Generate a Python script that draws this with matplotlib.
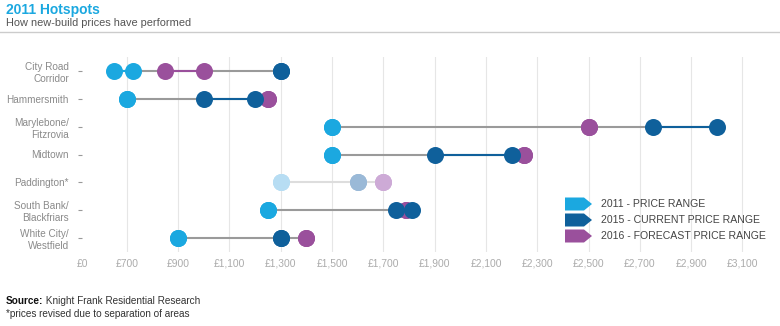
import matplotlib.pyplot as plt
from matplotlib.patches import Polygon

plt.rcParams['font.family'] = ['Liberation Sans', 'DejaVu Sans']

# Data: price per sq ft ranges by area
areas = ["City Road\nCorridor", "Hammersmith", "Marylebone/\nFitzrovia", "Midtown",
         "Paddington*", "South Bank/\nBlackfriars", "White City/\nWestfield"]
p2011_lo = [650, 700, 1500, 1500, 1300, 1250, 900]
p2011_hi = [725, 700, 1500, 1500, 1300, 1250, 900]
p2015_lo = [1300, 1000, 2750, 1900, 1600, 1750, 1300]
p2015_hi = [1300, 1200, 3000, 2200, 1600, 1810, 1300]
p2016_lo = [850, 1250, 2500, 2250, 1700, 1790, 1400]
p2016_hi = [1000, 1250, 2500, 2250, 1700, 1790, 1400]
revised = [False, False, False, False, True, False, False]

tick_vals = [525, 700, 900, 1100, 1300, 1500, 1700, 1900, 2100, 2300, 2500, 2700, 2900, 3100]
tick_labels = ["£0", "£700", "£900", "£1,100", "£1,300", "£1,500", "£1,700", "£1,900",
               "£2,100", "£2,300", "£2,500", "£2,700", "£2,900", "£3,100"]
legend_labels = ["2011 - PRICE RANGE", "2015 - CURRENT PRICE RANGE", "2016 - FORECAST PRICE RANGE"]

LIGHT = "#1ba8e0"
DARK = "#0f609b"
PURPLE = "#9a509c"
FADED = {LIGHT: "#b7ddf3", DARK: "#9ab9d7", PURPLE: "#cdaad6"}

W, H = 780, 326
fig = plt.figure(figsize=(W / 100, H / 100), dpi=100)


def px(x, y):
    # pixel coords (top-left origin) -> figure fraction
    return x / W, 1 - y / H


ax = fig.add_axes([82 / W, 1 - 252 / H, (770 - 82) / W, (252 - 57) / H])
ax.set_xlim(525, 525 + 688 * 200 / 51.3)
ax.set_ylim(len(areas) - 0.5, -0.5)

for v in tick_vals[1:]:
    ax.axvline(v, color="#e6e6e6", lw=0.8, zorder=0)

for i in range(len(areas)):
    c_light, c_dark, c_purp, c_line = LIGHT, DARK, PURPLE, "#9a9a9a"
    if revised[i]:
        c_light, c_dark, c_purp, c_line = FADED[LIGHT], FADED[DARK], FADED[PURPLE], "#dddddd"
    vals = [p2011_lo[i], p2011_hi[i], p2015_lo[i], p2015_hi[i], p2016_lo[i], p2016_hi[i]]
    ax.plot([min(vals), max(vals)], [i, i], color=c_line, lw=1.5, zorder=1)
    ax.plot([p2011_lo[i], p2011_hi[i]], [i, i], color=c_light, lw=1.5, zorder=2)
    ax.plot([p2015_lo[i], p2015_hi[i]], [i, i], color=c_dark, lw=1.5, zorder=2)
    ax.plot([p2016_lo[i], p2016_hi[i]], [i, i], color=c_purp, lw=1.5, zorder=2)
    ax.scatter([p2011_lo[i], p2011_hi[i]], [i, i], s=150, color=c_light, lw=0, zorder=3)
    ax.scatter([p2016_lo[i], p2016_hi[i]], [i, i], s=150, color=c_purp, lw=0, zorder=4)
    ax.scatter([p2015_lo[i], p2015_hi[i]], [i, i], s=150, color=c_dark, lw=0, zorder=5)

ax.set_yticks(range(len(areas)))
ax.set_yticklabels(areas, fontsize=7.2, color="#8a8a8a", linespacing=1.25)
ax.set_xticks(tick_vals)
ax.set_xticklabels(tick_labels, fontsize=7.4, color="#ababab")
ax.tick_params(axis="y", length=3, color="#999999", pad=6.5)
ax.tick_params(axis="x", length=0, pad=5)
for s in ax.spines.values():
    s.set_visible(False)

# Header
fig.text(*px(6, 10), "2011 Hotspots", fontsize=10, fontweight="bold", color=LIGHT, va="center")
fig.text(*px(6, 23), "How new-build prices have performed", fontsize=7.9, color="#555555", va="center")
fig.add_artist(plt.Line2D([0, 1], [1 - 32 / H] * 2, color="#cccccc", lw=1))

# Legend with arrow-shaped swatches
for k, (col, lab) in enumerate(zip([LIGHT, DARK, PURPLE], legend_labels)):
    yc = 204 + k * 16
    pts = [px(565, yc - 6.5), px(584, yc - 6.5), px(592, yc), px(584, yc + 6.5), px(565, yc + 6.5)]
    fig.add_artist(Polygon(pts, closed=True, color=col, lw=0, transform=fig.transFigure))
    fig.text(*px(601, yc), lab, fontsize=7.6, color="#444444", va="center")

# Footnotes
src = fig.text(*px(6, 301), "Source:", fontsize=7.2, fontweight="bold", color="#111111", va="center")
ax.annotate(" Knight Frank Residential Research", xy=(1, 0.5), xycoords=src, fontsize=7.2,
            color="#333333", va="center", ha="left", annotation_clip=False)
fig.text(*px(6, 314), "*prices revised due to separation of areas", fontsize=7.2, color="#333333", va="center")

fig.savefig("out.png", dpi=100)
